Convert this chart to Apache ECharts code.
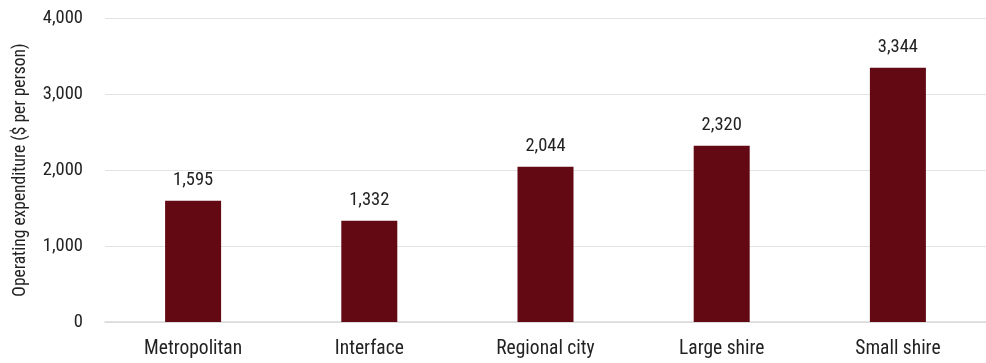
<!DOCTYPE html>
<html>
<head>
<meta charset="utf-8">
<script src="https://cdn.jsdelivr.net/npm/echarts@6/dist/echarts.min.js"></script>
<style>
html,body{margin:0;padding:0;background:#fff;}
#c{width:986px;height:363px;}
</style>
</head>
<body>
<div id="c"></div>
<script>
const categories = ["Metropolitan", "Interface", "Regional city", "Large shire", "Small shire"];
const values = [1595, 1332, 2044, 2320, 3344];
const yTicks = [0, 1000, 2000, 3000, 4000];
const yAxisTitle = "Operating expenditure ($ per person)";

const FONT = "'Roboto Condensed', 'Liberation Sans Narrow', 'Arial Narrow', Roboto, sans-serif";
const chart = echarts.init(document.getElementById('c'), null, {renderer: 'canvas'});
chart.setOption({
  animation: false,
  backgroundColor: '#ffffff',
  grid: {left: 105, top: 18, width: 890, height: 304, containLabel: false},
  xAxis: {
    type: 'category',
    data: categories,
    axisLine: {show: true, lineStyle: {color: '#d9d9d9', width: 1.5}},
    axisTick: {show: false},
    axisLabel: {color: '#222', fontSize: 19.5, fontFamily: FONT, margin: 17}
  },
  yAxis: {
    type: 'value',
    min: yTicks[0],
    max: yTicks[yTicks.length - 1],
    interval: 1000,
    name: yAxisTitle,
    nameLocation: 'middle',
    nameGap: 75,
    nameTextStyle: {color: '#222', fontSize: 17.5, fontFamily: FONT},
    axisLine: {show: false},
    axisTick: {show: false},
    splitLine: {lineStyle: {color: '#e3e3e3', width: 1}},
    axisLabel: {
      color: '#222', fontSize: 18.5, fontFamily: FONT, margin: 22,
      formatter: v => v.toLocaleString('en-US')
    }
  },
  series: [{
    type: 'bar',
    data: values,
    barWidth: 56,
    itemStyle: {color: '#630914'},
    label: {
      show: true, position: 'top', distance: 11,
      color: '#222', fontSize: 18.5, fontFamily: FONT,
      formatter: p => p.value.toLocaleString('en-US')
    }
  }]
});
</script>
</body>
</html>
